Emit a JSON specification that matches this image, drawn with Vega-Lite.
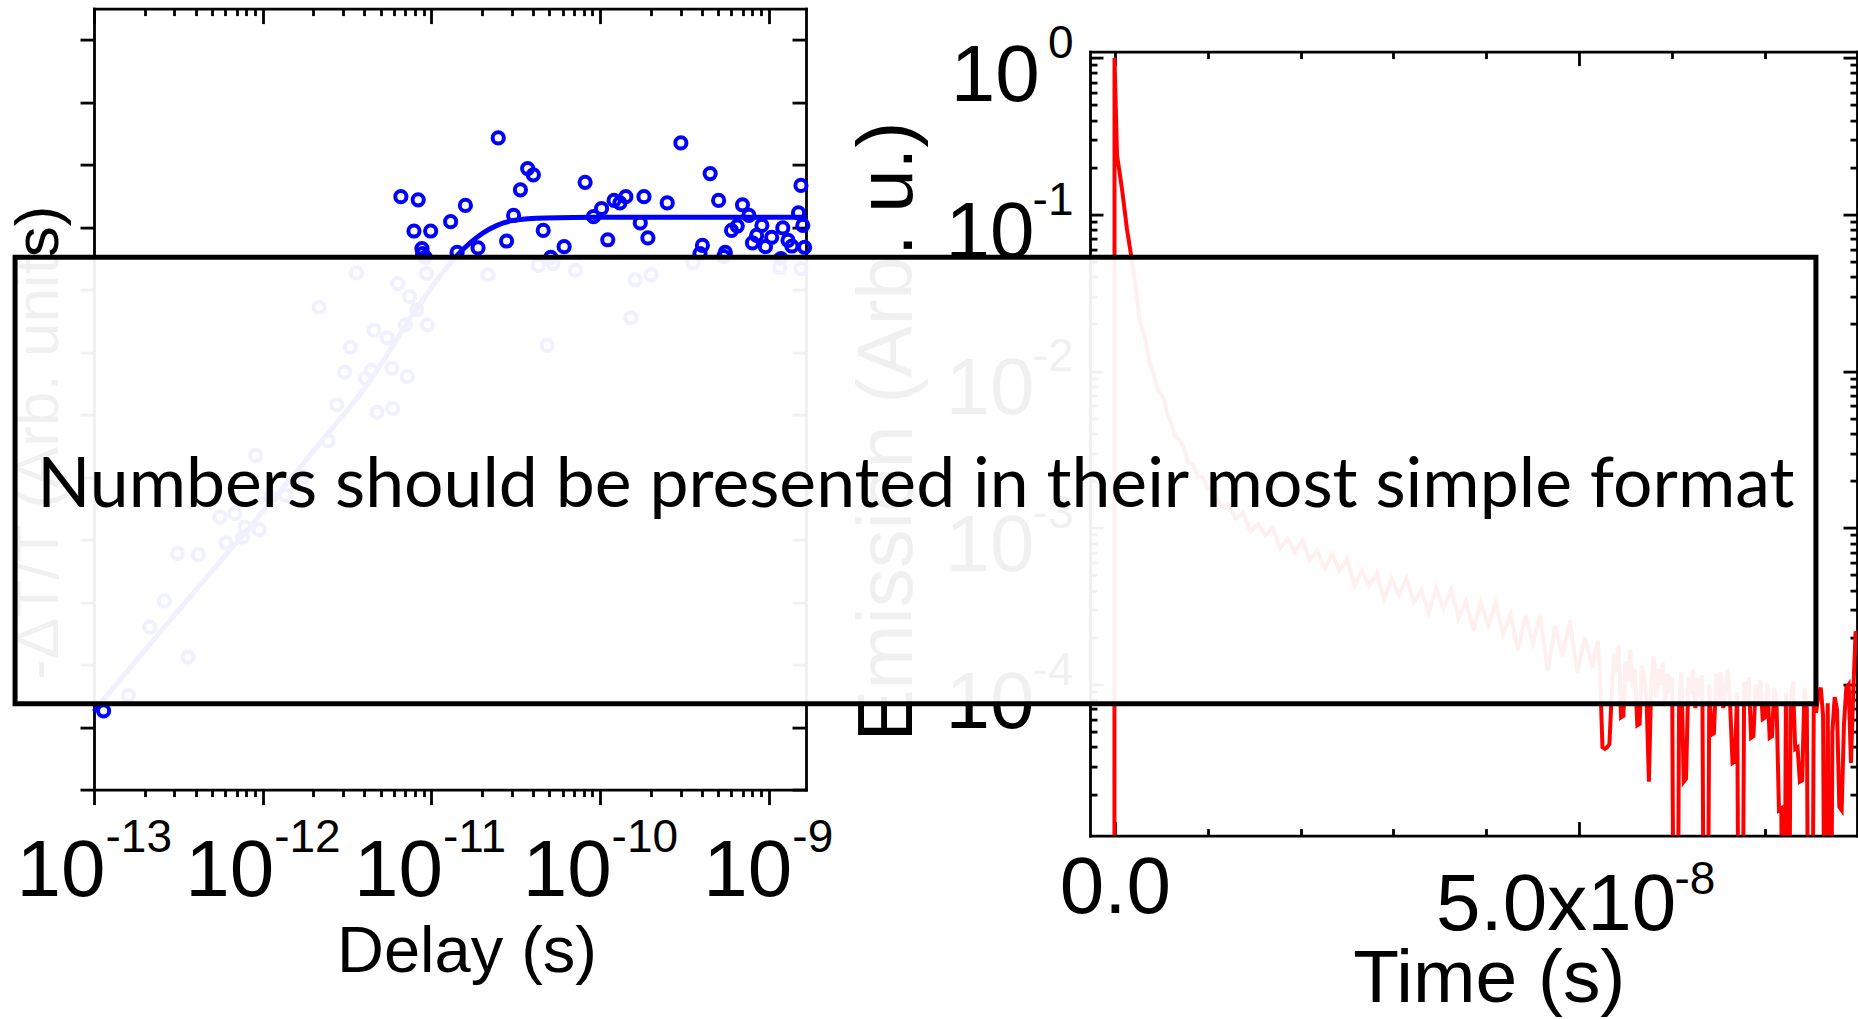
{
  "$schema": "https://vega.github.io/schema/vega-lite/v6.json",
  "background": "white",
  "padding": {"left": 7, "top": 6.6, "right": 0, "bottom": 0},
  "config": {
    "view": {"stroke": null},
    "axis": {
      "grid": false,
      "domainColor": "black",
      "domainWidth": 2.8,
      "domainCap": "square",
      "tickColor": "black",
      "tickWidth": 2.8,
      "labelColor": "black",
      "titleColor": "black",
      "labelFont": "Liberation Sans",
      "titleFont": "Liberation Sans",
      "titleFontWeight": "normal",
      "labelOverlap": false,
      "labelFlush": false,
      "labelBound": false,
      "labelLimit": 1000,
      "titleLimit": 2000,
      "titlePadding": 0
    }
  },
  "datasets": {
    "pump": [
      {"delay": 6.59e-12, "signal": 9.49}, {"delay": 8.35e-12, "signal": 9.44}, {"delay": 7.88e-12, "signal": 8.94},
      {"delay": 9.9e-12, "signal": 8.94}, {"delay": 8.79e-12, "signal": 8.66}, {"delay": 1.3e-11, "signal": 9.09},
      {"delay": 1.59e-11, "signal": 9.35}, {"delay": 2.49e-11, "signal": 10.43}, {"delay": 3.37e-11, "signal": 9.6},
      {"delay": 3.72e-11, "signal": 9.94}, {"delay": 4.02e-11, "signal": 9.84}, {"delay": 3.07e-11, "signal": 9.19},
      {"delay": 2.79e-11, "signal": 8.78}, {"delay": 1.89e-11, "signal": 8.67}, {"delay": 4.6e-11, "signal": 8.95},
      {"delay": 6.12e-11, "signal": 8.69}, {"delay": 8.15e-11, "signal": 9.72}, {"delay": 9.14e-11, "signal": 9.17},
      {"delay": 1.02e-10, "signal": 9.3}, {"delay": 1.11e-10, "signal": 8.8}, {"delay": 1.21e-10, "signal": 9.43},
      {"delay": 1.31e-10, "signal": 9.39}, {"delay": 1.42e-10, "signal": 9.49}, {"delay": 1.73e-10, "signal": 9.07},
      {"delay": 1.82e-10, "signal": 9.49}, {"delay": 1.92e-10, "signal": 8.83}, {"delay": 2.5e-10, "signal": 9.39},
      {"delay": 3.01e-10, "signal": 10.35}, {"delay": 4.04e-10, "signal": 8.71}, {"delay": 4.49e-10, "signal": 9.86},
      {"delay": 5.04e-10, "signal": 9.43}, {"delay": 5.52e-10, "signal": 8.6}, {"delay": 6.01e-10, "signal": 8.95},
      {"delay": 6.5e-10, "signal": 9.02}, {"delay": 6.98e-10, "signal": 9.36}, {"delay": 7.62e-10, "signal": 9.19},
      {"delay": 8.0e-10, "signal": 8.75}, {"delay": 8.47e-10, "signal": 8.87}, {"delay": 9.1e-10, "signal": 9.03},
      {"delay": 9.55e-10, "signal": 8.69}, {"delay": 1.04e-9, "signal": 8.84}, {"delay": 1.21e-9, "signal": 8.99},
      {"delay": 1.3e-9, "signal": 8.79}, {"delay": 1.37e-9, "signal": 8.7}, {"delay": 1.5e-9, "signal": 9.23},
      {"delay": 1.55e-9, "signal": 9.67}, {"delay": 1.59e-9, "signal": 9.03}, {"delay": 1.63e-9, "signal": 8.68},
      {"delay": 3.59e-12, "signal": 8.27}, {"delay": 2.16e-12, "signal": 7.72}, {"delay": 6.32e-12, "signal": 8.1},
      {"delay": 7.43e-12, "signal": 7.89}, {"delay": 9.33e-12, "signal": 8.26}, {"delay": 9.2e-12, "signal": 8.52},
      {"delay": 8.18e-12, "signal": 7.68}, {"delay": 9.46e-12, "signal": 7.44}, {"delay": 7.02e-12, "signal": 7.44},
      {"delay": 4.57e-12, "signal": 7.35}, {"delay": 5.47e-12, "signal": 7.23}, {"delay": 3.31e-12, "signal": 7.08},
      {"delay": 3.06e-12, "signal": 6.68}, {"delay": 4.06e-12, "signal": 6.58}, {"delay": 4.4e-12, "signal": 6.71},
      {"delay": 5.83e-12, "signal": 6.74}, {"delay": 7.19e-12, "signal": 6.61}, {"delay": 2.75e-12, "signal": 6.16},
      {"delay": 4.77e-12, "signal": 6.04}, {"delay": 5.9e-12, "signal": 6.1}, {"delay": 2.16e-11, "signal": 8.24},
      {"delay": 4.3e-11, "signal": 8.39}, {"delay": 5.26e-11, "signal": 8.42}, {"delay": 7.14e-11, "signal": 8.31},
      {"delay": 1.61e-10, "signal": 8.16}, {"delay": 2.0e-10, "signal": 8.24}, {"delay": 1.52e-10, "signal": 7.55},
      {"delay": 4.85e-11, "signal": 7.11}, {"delay": 3.55e-10, "signal": 8.43}, {"delay": 1.16e-9, "signal": 8.36},
      {"delay": 1.55e-9, "signal": 8.34}, {"delay": 2.44e-12, "signal": 5.58}, {"delay": 9.08e-13, "signal": 5.35},
      {"delay": 1.73e-12, "signal": 5.0}, {"delay": 1.36e-12, "signal": 4.71}, {"delay": 1.11e-12, "signal": 4.68},
      {"delay": 5.58e-13, "signal": 4.36}, {"delay": 6.84e-13, "signal": 4.42}, {"delay": 7.85e-13, "signal": 4.2},
      {"delay": 9.53e-13, "signal": 4.16}, {"delay": 6.05e-13, "signal": 3.95}, {"delay": 7.6e-13, "signal": 4.04},
      {"delay": 3.12e-13, "signal": 3.78}, {"delay": 4.15e-13, "signal": 3.76}, {"delay": 2.61e-13, "signal": 3.02},
      {"delay": 2.14e-13, "signal": 2.6}, {"delay": 3.61e-13, "signal": 2.12}, {"delay": 1.6e-13, "signal": 1.51},
      {"delay": 1.14e-13, "signal": 1.26}, {"delay": 8.87e-12, "signal": 8.58}, {"delay": 1.42e-11, "signal": 8.6},
      {"delay": 5.1e-11, "signal": 8.52}, {"delay": 3.91e-10, "signal": 8.58}, {"delay": 5.4e-10, "signal": 8.53},
      {"delay": 1.18e-9, "signal": 8.5}
    ],
    "fit": [
      {"delay": 1e-13, "signal": 1.25}, {"delay": 1.11e-13, "signal": 1.4}, {"delay": 3.17e-13, "signal": 2.87},
      {"delay": 7.13e-13, "signal": 3.98}, {"delay": 2.3e-12, "signal": 5.62}, {"delay": 4.22e-12, "signal": 6.5},
      {"delay": 8.05e-12, "signal": 7.67}, {"delay": 1.42e-11, "signal": 8.55}, {"delay": 2.0e-11, "signal": 8.9},
      {"delay": 3.07e-11, "signal": 9.11}, {"delay": 4.71e-11, "signal": 9.15}, {"delay": 1.0e-10, "signal": 9.16},
      {"delay": 1.661e-9, "signal": 9.16}
    ],
    "emission": [
      {"time": -2.67e-9, "emission": 1e-7}, {"time": -4e-11, "emission": 1e-7}, {"time": -3e-11, "emission": 1.0},
      {"time": 2.4e-10, "emission": 0.24}, {"time": 8e-10, "emission": 0.142}, {"time": 1.3e-9, "emission": 0.0815},
      {"time": 1.74e-9, "emission": 0.0556}, {"time": 2.2e-9, "emission": 0.0366}, {"time": 2.66e-9, "emission": 0.0214},
      {"time": 3.2e-9, "emission": 0.0167}, {"time": 3.7e-9, "emission": 0.0116}, {"time": 4.22e-9, "emission": 0.00927},
      {"time": 4.7e-9, "emission": 0.00748}, {"time": 5.26e-9, "emission": 0.00675}, {"time": 5.7e-9, "emission": 0.00521},
      {"time": 6.05e-9, "emission": 0.00469}, {"time": 6.5e-9, "emission": 0.0038}, {"time": 6.84e-9, "emission": 0.00371},
      {"time": 7.4e-9, "emission": 0.00329}, {"time": 7.88e-9, "emission": 0.00262}, {"time": 8.4e-9, "emission": 0.00256},
      {"time": 8.9e-9, "emission": 0.00214}, {"time": 9.44e-9, "emission": 0.00211}, {"time": 1.0e-8, "emission": 0.00178},
      {"time": 1.06e-8, "emission": 1.78e-3}, {"time": 1.14e-8, "emission": 1.36e-3}, {"time": 1.22e-8, "emission": 1.42e-3},
      {"time": 1.30e-8, "emission": 1.15e-3}, {"time": 1.38e-8, "emission": 1.25e-3}, {"time": 1.46e-8, "emission": 9.46e-4},
      {"time": 1.54e-8, "emission": 1.06e-3}, {"time": 1.62e-8, "emission": 8.99e-4}, {"time": 1.70e-8, "emission": 1.0e-3},
      {"time": 1.78e-8, "emission": 7.43e-4}, {"time": 1.86e-8, "emission": 8.47e-4}, {"time": 1.94e-8, "emission": 6.98e-4},
      {"time": 2.02e-8, "emission": 8.32e-4}, {"time": 2.10e-8, "emission": 6.19e-4}, {"time": 2.18e-8, "emission": 7.16e-4},
      {"time": 2.26e-8, "emission": 5.47e-4}, {"time": 2.34e-8, "emission": 6.81e-4}, {"time": 2.42e-8, "emission": 5.35e-4},
      {"time": 2.50e-8, "emission": 6.37e-4}, {"time": 2.58e-8, "emission": 4.27e-4}, {"time": 2.66e-8, "emission": 5.32e-4},
      {"time": 2.74e-8, "emission": 4.26e-4}, {"time": 2.82e-8, "emission": 5.15e-4}, {"time": 2.90e-8, "emission": 3.52e-4},
      {"time": 2.98e-8, "emission": 4.72e-4}, {"time": 3.06e-8, "emission": 3.72e-4}, {"time": 3.14e-8, "emission": 4.76e-4},
      {"time": 3.22e-8, "emission": 3.35e-4}, {"time": 3.30e-8, "emission": 4.0e-4}, {"time": 3.38e-8, "emission": 2.88e-4},
      {"time": 3.46e-8, "emission": 4.13e-4}, {"time": 3.54e-8, "emission": 3.04e-4}, {"time": 3.62e-8, "emission": 4.07e-4},
      {"time": 3.70e-8, "emission": 2.65e-4}, {"time": 3.78e-8, "emission": 3.42e-4}, {"time": 3.86e-8, "emission": 2.21e-4},
      {"time": 3.94e-8, "emission": 3.36e-4}, {"time": 4.02e-8, "emission": 2.37e-4}, {"time": 4.10e-8, "emission": 3.32e-4},
      {"time": 4.18e-8, "emission": 2.08e-4}, {"time": 4.26e-8, "emission": 2.81e-4}, {"time": 4.34e-8, "emission": 1.66e-4},
      {"time": 4.42e-8, "emission": 2.75e-4}, {"time": 4.50e-8, "emission": 1.84e-4}, {"time": 4.58e-8, "emission": 2.76e-4},
      {"time": 4.66e-8, "emission": 1.22e-4}, {"time": 4.74e-8, "emission": 2.37e-4}, {"time": 4.82e-8, "emission": 1.52e-4},
      {"time": 4.90e-8, "emission": 2.56e-4}, {"time": 4.98e-8, "emission": 1.19e-4}, {"time": 5.06e-8, "emission": 2.01e-4},
      {"time": 5.14e-8, "emission": 1.29e-4}, {"time": 5.200e-8, "emission": 1.91e-4}, {"time": 5.225e-8, "emission": 1.12e-4},
      {"time": 5.250e-8, "emission": 3.98e-5}, {"time": 5.275e-8, "emission": 3.89e-5}, {"time": 5.300e-8, "emission": 3.98e-5},
      {"time": 5.325e-8, "emission": 4.17e-5}, {"time": 5.350e-8, "emission": 8.91e-5}, {"time": 5.375e-8, "emission": 1.58e-4},
      {"time": 5.400e-8, "emission": 1.2e-4}, {"time": 5.425e-8, "emission": 1.78e-4}, {"time": 5.450e-8, "emission": 6.17e-5},
      {"time": 5.475e-8, "emission": 6.31e-5}, {"time": 5.500e-8, "emission": 1.41e-4}, {"time": 5.525e-8, "emission": 1.05e-4},
      {"time": 5.550e-8, "emission": 1.66e-4}, {"time": 5.575e-8, "emission": 9.55e-5}, {"time": 5.600e-8, "emission": 1.26e-4},
      {"time": 5.625e-8, "emission": 5.5e-5}, {"time": 5.650e-8, "emission": 5.62e-5}, {"time": 5.675e-8, "emission": 1.32e-4},
      {"time": 5.700e-8, "emission": 1.12e-4}, {"time": 5.725e-8, "emission": 7.94e-5}, {"time": 5.750e-8, "emission": 2.4e-5},
      {"time": 5.775e-8, "emission": 1.05e-4}, {"time": 5.800e-8, "emission": 1.51e-4}, {"time": 5.825e-8, "emission": 8.32e-5},
      {"time": 5.850e-8, "emission": 1.26e-4}, {"time": 5.875e-8, "emission": 1.0e-4}, {"time": 5.900e-8, "emission": 1.38e-4},
      {"time": 5.925e-8, "emission": 7.59e-5}, {"time": 5.950e-8, "emission": 1.17e-4}, {"time": 5.975e-8, "emission": 8.91e-5},
      {"time": 6.000e-8, "emission": 1.12e-4}, {"time": 6.025e-8, "emission": 1e-7}, {"time": 6.050e-8, "emission": 1e-7},
      {"time": 6.075e-8, "emission": 7.94e-5}, {"time": 6.100e-8, "emission": 1.2e-4}, {"time": 6.125e-8, "emission": 2.4e-5},
      {"time": 6.150e-8, "emission": 2.51e-5}, {"time": 6.175e-8, "emission": 1.12e-4}, {"time": 6.200e-8, "emission": 8.71e-5},
      {"time": 6.225e-8, "emission": 1.26e-4}, {"time": 6.250e-8, "emission": 7.08e-5}, {"time": 6.275e-8, "emission": 1.1e-4},
      {"time": 6.300e-8, "emission": 8.32e-5}, {"time": 6.325e-8, "emission": 1.15e-4}, {"time": 6.350e-8, "emission": 1e-7},
      {"time": 6.375e-8, "emission": 1e-7}, {"time": 6.400e-8, "emission": 1.0e-4}, {"time": 6.425e-8, "emission": 4.79e-5},
      {"time": 6.450e-8, "emission": 4.9e-5}, {"time": 6.475e-8, "emission": 1.17e-4}, {"time": 6.500e-8, "emission": 7.94e-5},
      {"time": 6.525e-8, "emission": 1.2e-4}, {"time": 6.550e-8, "emission": 7.08e-5}, {"time": 6.575e-8, "emission": 9.55e-5},
      {"time": 6.600e-8, "emission": 1.26e-4}, {"time": 6.625e-8, "emission": 7.24e-5}, {"time": 6.650e-8, "emission": 3.16e-5},
      {"time": 6.675e-8, "emission": 3.24e-5}, {"time": 6.700e-8, "emission": 8.91e-5}, {"time": 6.725e-8, "emission": 1e-7},
      {"time": 6.750e-8, "emission": 1e-7}, {"time": 6.775e-8, "emission": 1.05e-4}, {"time": 6.800e-8, "emission": 7.59e-5},
      {"time": 6.825e-8, "emission": 1.12e-4}, {"time": 6.850e-8, "emission": 4.57e-5}, {"time": 6.875e-8, "emission": 4.68e-5},
      {"time": 6.900e-8, "emission": 1.0e-4}, {"time": 6.925e-8, "emission": 7.41e-5}, {"time": 6.950e-8, "emission": 1.07e-4},
      {"time": 6.975e-8, "emission": 6.03e-5}, {"time": 7.000e-8, "emission": 6.17e-5}, {"time": 7.025e-8, "emission": 1.02e-4},
      {"time": 7.050e-8, "emission": 4.57e-5}, {"time": 7.075e-8, "emission": 4.68e-5}, {"time": 7.100e-8, "emission": 9.55e-5},
      {"time": 7.125e-8, "emission": 7.08e-5}, {"time": 7.150e-8, "emission": 1.58e-5}, {"time": 7.175e-8, "emission": 1.62e-5},
      {"time": 7.200e-8, "emission": 1e-7}, {"time": 7.225e-8, "emission": 8.91e-5}, {"time": 7.250e-8, "emission": 1e-7},
      {"time": 7.275e-8, "emission": 7.59e-5}, {"time": 7.300e-8, "emission": 1.05e-4}, {"time": 7.325e-8, "emission": 3.89e-5},
      {"time": 7.350e-8, "emission": 3.98e-5}, {"time": 7.375e-8, "emission": 2.4e-5}, {"time": 7.400e-8, "emission": 2.45e-5},
      {"time": 7.425e-8, "emission": 9.55e-5}, {"time": 7.450e-8, "emission": 7.08e-5}, {"time": 7.475e-8, "emission": 1e-7},
      {"time": 7.500e-8, "emission": 1e-7}, {"time": 7.525e-8, "emission": 8.32e-5}, {"time": 7.550e-8, "emission": 6.61e-5},
      {"time": 7.575e-8, "emission": 8.71e-5}, {"time": 7.600e-8, "emission": 9.55e-5}, {"time": 7.625e-8, "emission": 6.31e-5},
      {"time": 7.650e-8, "emission": 1e-7}, {"time": 7.675e-8, "emission": 7.59e-5}, {"time": 7.700e-8, "emission": 1e-7},
      {"time": 7.725e-8, "emission": 5.01e-5}, {"time": 7.750e-8, "emission": 8.32e-5}, {"time": 7.775e-8, "emission": 6.92e-5},
      {"time": 7.800e-8, "emission": 1.66e-5}, {"time": 7.825e-8, "emission": 1.58e-5}, {"time": 7.850e-8, "emission": 5.62e-5},
      {"time": 7.875e-8, "emission": 9.55e-5}, {"time": 7.900e-8, "emission": 1.0e-4}, {"time": 7.925e-8, "emission": 3.16e-5},
      {"time": 7.950e-8, "emission": 8.91e-5}, {"time": 7.975e-8, "emission": 2.19e-4}, {"time": 7.990e-8, "emission": 2.0e-4}
    ],
    "note": [
      {"t0": -1.1839e-7, "t1": 7.548e-8, "e0": 7.56e-5, "e1": 0.0535, "tx": -2.142e-8, "ey": 1.368e-3,
       "label": "Numbers should be presented in their most simple format"}
    ],
    "blank": []
  },
  "hconcat": [
    {
      "width": 712,
      "height": 781,
      "layer": [
        {
          "data": {"name": "pump"},
          "transform": [{"filter": "datum.delay < 1e-11"}],
          "mark": {"type": "point", "filled": false, "color": "#0000ff", "strokeWidth": 4, "size": 125, "opacity": 1},
          "encoding": {
            "x": {
              "field": "delay", "type": "quantitative",
              "scale": {"type": "log", "domain": [1e-13, 1.661e-9], "nice": false},
              "axis": {
                "orient": "bottom",
                "values": [1e-13,2e-13,3e-13,4e-13,5e-13,6e-13,7e-13,8e-13,9e-13,1e-12,2e-12,3e-12,4e-12,5e-12,6e-12,7e-12,8e-12,9e-12,1e-11,2e-11,3e-11,4e-11,5e-11,6e-11,7e-11,8e-11,9e-11,1e-10,2e-10,3e-10,4e-10,5e-10,6e-10,7e-10,8e-10,9e-10,1e-9],
                "tickSize": {"condition": {"test": "abs(log(datum.value)/LN10 - round(log(datum.value)/LN10)) < 0.001", "value": 15}, "value": 7},
                "labelExpr": "abs(log(datum.value)/LN10 - round(log(datum.value)/LN10)) < 0.001 ? '10' : ''",
                "labelAlign": "right", "labelBaseline": "top",
                "labelOffset": {"condition": {"test": "datum.value > 5e-10", "value": 23}, "value": 11},
                "labelPadding": 28.4, "labelFontSize": 80,
                "title": "Delay (s)", "titleFontSize": 65, "titleX": 372.5, "titleY": 131.3,
                "titleBaseline": "top", "titleAlign": "center"
              }
            },
            "y": {
              "field": "signal", "type": "quantitative",
              "scale": {"domain": [0, 12.5], "nice": false, "zero": false},
              "axis": {
                "orient": "left", "values": [0,1,2,3,4,5,6,7,8,9,10,11,12],
                "tickSize": 14, "labels": false,
                "title": "-ΔT/T (Arb. units)", "titleFontSize": 62, "titleX": -23.5, "titleY": 433.5,
                "titleAngle": 270, "titleBaseline": "bottom", "titleAlign": "center"
              }
            }
          }
        },
        {
          "data": {"name": "pump"},
          "transform": [{"filter": "datum.delay >= 1e-11"}],
          "mark": {"type": "point", "filled": false, "color": "#0000ff", "strokeWidth": 4, "size": 125, "opacity": 1},
          "encoding": {
            "x": {
              "field": "delay", "type": "quantitative",
              "scale": {"type": "log", "domain": [1e-13, 1.661e-9], "nice": false},
              "axis": {
                "orient": "bottom", "values": [1e-13, 1e-12, 1e-11, 1e-10, 1e-9],
                "ticks": false, "tickSize": 0, "domain": false,
                "labelExpr": "'-' + (-round(log(datum.value)/LN10))",
                "labelAlign": "left", "labelBaseline": "top",
                "labelOffset": {"condition": {"test": "datum.value > 5e-10", "value": 23}, "value": 11},
                "labelPadding": 25.9, "labelFontSize": 46,
                "title": null
              }
            },
            "y": {
              "field": "signal", "type": "quantitative",
              "scale": {"domain": [0, 12.5], "nice": false, "zero": false},
              "axis": {
                "orient": "right", "values": [0,1,2,3,4,5,6,7,8,9,10,11,12],
                "tickSize": -14, "labels": false, "title": null
              }
            }
          }
        },
        {
          "data": {"name": "fit"},
          "mark": {"type": "line", "color": "#0000ff", "strokeWidth": 5, "interpolate": "monotone"},
          "encoding": {
            "x": {
              "field": "delay", "type": "quantitative",
              "scale": {"type": "log", "domain": [1e-13, 1.661e-9], "nice": false},
              "axis": {
                "orient": "top",
                "values": [1e-13,2e-13,3e-13,4e-13,5e-13,6e-13,7e-13,8e-13,9e-13,1e-12,2e-12,3e-12,4e-12,5e-12,6e-12,7e-12,8e-12,9e-12,1e-11,2e-11,3e-11,4e-11,5e-11,6e-11,7e-11,8e-11,9e-11,1e-10,2e-10,3e-10,4e-10,5e-10,6e-10,7e-10,8e-10,9e-10,1e-9],
                "tickSize": {"condition": {"test": "abs(log(datum.value)/LN10 - round(log(datum.value)/LN10)) < 0.001", "value": -15}, "value": -7},
                "labels": false, "title": null
              }
            },
            "y": {
              "field": "signal", "type": "quantitative",
              "scale": {"domain": [0, 12.5], "nice": false, "zero": false},
              "axis": null
            }
          }
        }
      ],
      "resolve": {"axis": {"x": "independent", "y": "independent"}}
    },
    {
      "vconcat": [
        {
          "width": 767,
          "height": 1,
          "data": {"name": "blank"},
          "mark": "point",
          "encoding": {}
        },
        {
          "width": 767,
          "height": 784,
          "layer": [
            {
              "data": {"name": "emission"},
              "mark": {"type": "line", "color": "#ff0000", "strokeWidth": 4, "clip": true},
              "encoding": {
                "x": {
                  "field": "time", "type": "quantitative",
                  "scale": {"domain": [-2.67e-9, 7.99e-8], "nice": false, "zero": false},
                  "axis": {
                    "orient": "bottom", "values": [0, 1e-8, 2e-8, 3e-8, 4e-8, 5e-8, 6e-8, 7e-8],
                    "tickSize": {"condition": {"test": "datum.value == 0 || abs(datum.value - 5e-8) < 1e-12", "value": -14}, "value": -7},
                    "labelExpr": "datum.value == 0 ? '0.0' : (abs(datum.value - 5e-8) < 1e-12 ? '5.0x10' : '')",
                    "labelAlign": {"condition": {"test": "datum.value == 0", "value": "center"}, "value": "right"},
                    "labelOffset": {"condition": {"test": "datum.value == 0", "value": 0}, "value": 96.4},
                    "labelPadding": {"condition": {"test": "datum.value == 0", "value": 28.1}, "value": 44.8},
                    "labelBaseline": "top", "labelFontSize": 80,
                    "title": "Time (s)", "titleFontSize": 75, "titleX": 398.8, "titleY": 107.4,
                    "titleBaseline": "top", "titleAlign": "center"
                  }
                },
                "y": {
                  "field": "emission", "type": "quantitative",
                  "scale": {"type": "log", "domain": [1.087e-5, 1.097], "nice": false},
                  "axis": {
                    "orient": "left",
                    "values": [2e-5,3e-5,4e-5,5e-5,6e-5,7e-5,8e-5,9e-5,1e-4,2e-4,3e-4,4e-4,5e-4,6e-4,7e-4,8e-4,9e-4,1e-3,2e-3,3e-3,4e-3,5e-3,6e-3,7e-3,8e-3,9e-3,1e-2,2e-2,3e-2,4e-2,5e-2,6e-2,7e-2,8e-2,9e-2,0.1,0.2,0.3,0.4,0.5,0.6,0.7,0.8,0.9,1],
                    "tickSize": {"condition": {"test": "abs(log(datum.value)/LN10 - round(log(datum.value)/LN10)) < 0.001", "value": -13}, "value": -7},
                    "labelExpr": "abs(log(datum.value)/LN10 - round(log(datum.value)/LN10)) < 0.001 ? '10' : ''",
                    "labelAlign": "right", "labelBaseline": "middle", "labelOffset": 18.6,
                    "labelPadding": {"condition": {"test": "datum.value == 1", "value": 63.7}, "value": 69},
                    "labelFontSize": 80,
                    "title": "Emission (Arb. u.)", "titleFontSize": 78, "titleX": -162.6, "titleY": 379.5,
                    "titleAngle": 270, "titleBaseline": "bottom", "titleAlign": "center"
                  }
                }
              }
            },
            {
              "data": {"name": "note"},
              "mark": {"type": "rect", "fill": "white", "fillOpacity": 0.94, "stroke": "black", "strokeWidth": 5},
              "encoding": {
                "x": {
                  "field": "t0", "type": "quantitative",
                  "axis": {
                    "orient": "bottom", "values": [5e-8],
                    "ticks": false, "tickSize": 0, "domain": false,
                    "labelExpr": "'-8'",
                    "labelAlign": "left", "labelBaseline": "top", "labelOffset": 94.7, "labelPadding": 21.6, "labelFontSize": 46,
                    "title": null
                  }
                },
                "x2": {"field": "t1"},
                "y": {
                  "field": "e0", "type": "quantitative",
                  "axis": {
                    "orient": "left", "values": [1, 0.1, 0.01, 0.001, 0.0001],
                    "ticks": false, "tickSize": 0, "domain": false,
                    "labelExpr": "datum.value == 1 ? '0' : '-' + (-round(log(datum.value)/LN10))",
                    "labelAlign": "right", "labelBaseline": "middle", "labelOffset": -14.3, "labelPadding": 17, "labelFontSize": 46,
                    "title": null
                  }
                },
                "y2": {"field": "e1"}
              }
            },
            {
              "data": {"name": "note"},
              "mark": {"type": "text", "font": "Lato", "fontSize": 69.7, "align": "center", "baseline": "alphabetic", "color": "black"},
              "encoding": {
                "x": {
                  "field": "tx", "type": "quantitative",
                  "axis": {
                    "orient": "top", "values": [0, 1e-8, 2e-8, 3e-8, 4e-8, 5e-8, 6e-8, 7e-8],
                    "tickSize": {"condition": {"test": "datum.value == 0 || abs(datum.value - 5e-8) < 1e-12", "value": -14}, "value": -7},
                    "labels": false, "title": null
                  }
                },
                "y": {
                  "field": "ey", "type": "quantitative",
                  "axis": {
                    "orient": "right",
                    "values": [2e-5,3e-5,4e-5,5e-5,6e-5,7e-5,8e-5,9e-5,1e-4,2e-4,3e-4,4e-4,5e-4,6e-4,7e-4,8e-4,9e-4,1e-3,2e-3,3e-3,4e-3,5e-3,6e-3,7e-3,8e-3,9e-3,1e-2,2e-2,3e-2,4e-2,5e-2,6e-2,7e-2,8e-2,9e-2,0.1,0.2,0.3,0.4,0.5,0.6,0.7,0.8,0.9,1],
                    "tickSize": {"condition": {"test": "abs(log(datum.value)/LN10 - round(log(datum.value)/LN10)) < 0.001", "value": -14}, "value": -7},
                    "labels": false, "title": null
                  }
                },
                "text": {"field": "label"}
              }
            }
          ],
          "resolve": {"axis": {"x": "independent", "y": "independent"}}
        }
      ],
      "spacing": 42,
      "bounds": "flush"
    }
  ],
  "spacing": 284,
  "bounds": "flush"
}
